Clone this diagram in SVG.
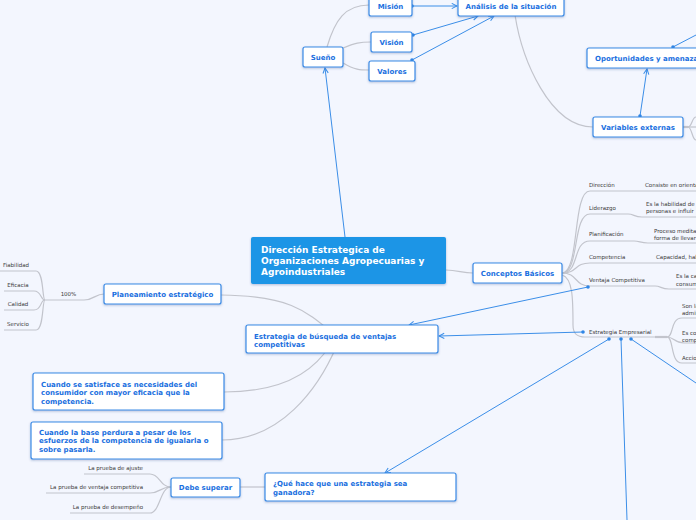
<svg xmlns="http://www.w3.org/2000/svg" width="696" height="520" viewBox="0 0 696 520">
<defs>
<style>
.bg{fill:#f3f6fe}
.node rect{fill:#ffffff;stroke:#3a8ae6;stroke-width:1.2}
.nt{font-family:"DejaVu Sans",Verdana,sans-serif;font-size:7px;font-weight:bold;fill:#1a6fe0}
.ct{font-family:"DejaVu Sans",Verdana,sans-serif;font-size:9px;font-weight:bold;fill:#ffffff}
.lt{font-family:"DejaVu Sans",Verdana,sans-serif;font-size:5.5px;fill:#3a3a3a}
.g{fill:none;stroke:#c2c4cc;stroke-width:1.2}
.gt{fill:none;stroke:#c2c4cc;stroke-width:2.2}
.b{fill:none;stroke:#3b8ee8;stroke-width:1}
.ba{fill:none;stroke:#3b8ee8;stroke-width:1;marker-end:url(#arr)}
.dot{fill:#2f86e6}
</style>
<marker id="arr" viewBox="0 0 8 8" refX="7" refY="4" markerWidth="7" markerHeight="7" markerUnits="userSpaceOnUse" orient="auto">
<path d="M1,1 L7,4 L1,7" fill="none" stroke="#3b8ee8" stroke-width="1.2"/>
</marker>
<filter id="sh" x="-10%" y="-20%" width="120%" height="160%">
<feDropShadow dx="0" dy="1" stdDeviation="0.8" flood-color="#1a3a80" flood-opacity="0.3"/>
</filter>
</defs>
<rect class="bg" x="0" y="0" width="696" height="520"/>

<g id="connectors">
<!-- gray tree lines -->
<path class="g" d="M327,47 C335,20 345,5 369,5"/>
<path class="g" d="M343,48 C355,43 360,42 371,42"/>
<path class="g" d="M343,63 C355,70 360,70 369,70"/>
<path class="g" d="M515,15 C522,60 550,127 593,127"/>
<path class="gt" d="M683,127 L688,127"/>
<path class="g" d="M688,127 C692,127 692,117 696,117"/>
<path class="g" d="M688,127 L696,127"/>
<path class="g" d="M688,127 C692,127 692,140 696,140"/>
<path class="g" d="M446,270 C458,270 462,273 473,273"/>
<!-- Conceptos children -->
<path class="g" d="M562,273 C580,273 572,191 590,191 L696,191"/>
<path class="g" d="M562,273 C580,273 572,214 590,214 L628,214 C634,214 634,217 642,217 L696,217"/>
<path class="g" d="M562,273 C580,273 572,241 590,241 L634,241 C640,241 640,243 648,243 L696,243"/>
<path class="g" d="M562,273 C578,273 574,263 590,263 L696,263"/>
<path class="g" d="M562,273 C578,273 574,286 590,286 L655,286 C661,286 661,289 669,289 L696,289"/>
<path class="g" d="M562,275 C573,278 573,300 573,325 C573,334 577,337 585,337 L655,337"/>
<path class="gt" d="M655,337 L667,337"/>
<path class="g" d="M667,337 C674,337 670,318 682,318 L696,318"/>
<path class="g" d="M667,337 C674,337 674,343 684,343 L696,343"/>
<path class="g" d="M667,337 C674,337 670,363 682,363 L696,363"/>
<!-- left side -->
<path class="g" d="M221,295 C290,296 305,310 335,335"/>
<path class="g" d="M224,392 C285,392 315,370 330,345"/>
<path class="g" d="M222,440 C280,440 318,390 337,345"/>
<path class="g" d="M104,294 C95,294 94,300 84,300 L45,300"/>
<path class="g" d="M45,300 C42,300 44,271 36,271 L0,271"/>
<path class="g" d="M45,300 C40,300 42,291 34,291 L4,291"/>
<path class="g" d="M45,300 C40,300 42,310 34,310 L4,310"/>
<path class="g" d="M45,300 C42,300 44,330 36,330 L4,330"/>
<path class="g" d="M265,487 L240,487"/>
<path class="g" d="M171,487 C160,487 160,474 150,474 L84,474"/>
<path class="g" d="M171,487 C160,487 160,493 150,493 L46,493"/>
<path class="g" d="M171,487 C160,487 160,513 150,513 L70,513"/>
<!-- blue relations -->
<path class="ba" d="M412,6 L457,6"/>
<circle class="dot" cx="412" cy="6" r="1.8"/>
<path class="ba" d="M413,35 L478,16"/>
<circle class="dot" cx="413" cy="35" r="1.8"/>
<path class="ba" d="M412,60 L494,16"/>
<circle class="dot" cx="412" cy="60" r="1.8"/>
<path class="ba" d="M345,237 L325,68"/>
<path class="ba" d="M640,116 L647,69"/>
<circle class="dot" cx="640" cy="116" r="1.8"/>
<path class="b" d="M673,47 L696,35"/>
<circle class="dot" cx="673" cy="47" r="1.8"/>
<path class="ba" d="M588,287 L409,325"/>
<circle class="dot" cx="588" cy="287" r="1.8"/>
<path class="ba" d="M583,332 L439,336"/>
<circle class="dot" cx="583" cy="332" r="1.8"/>
<path class="ba" d="M609,339 L385,473"/>
<circle class="dot" cx="609" cy="339" r="1.8"/>
<path class="b" d="M621,339 L627,520"/>
<circle class="dot" cx="621" cy="339" r="1.8"/>
<path class="b" d="M631,339 L696,383"/>
<circle class="dot" cx="631" cy="339" r="1.8"/>
</g>

<g id="central">
<rect x="251" y="237" width="195" height="47" rx="2" fill="#1b95e6" filter="url(#sh)"/>
<text class="ct" x="261" y="253">Dirección Estrategica de</text>
<text class="ct" x="261" y="264">Organizaciones Agropecuarias y</text>
<text class="ct" x="261" y="275">Agroindustriales</text>
</g>

<g id="mision" class="node"><rect x="369" y="-4" width="43" height="20" rx="2" filter="url(#sh)"/><text class="nt" x="390.5" y="8.5" text-anchor="middle">Misión</text></g>
<g id="analisis" class="node"><rect x="458" y="-4" width="106" height="20" rx="2" filter="url(#sh)"/><text class="nt" x="511" y="8.5" text-anchor="middle">Análisis de la situación</text></g>
<g id="vision" class="node"><rect x="371" y="32" width="41" height="20" rx="2" filter="url(#sh)"/><text class="nt" x="391.5" y="44.5" text-anchor="middle">Visión</text></g>
<g id="sueno" class="node"><rect x="303" y="47" width="40" height="20" rx="2" filter="url(#sh)"/><text class="nt" x="323" y="59.5" text-anchor="middle">Sueño</text></g>
<g id="valores" class="node"><rect x="369" y="61" width="46" height="20" rx="2" filter="url(#sh)"/><text class="nt" x="392" y="73.5" text-anchor="middle">Valores</text></g>
<g id="oportunidades" class="node"><rect x="587" y="48" width="130" height="20" rx="2" filter="url(#sh)"/><text class="nt" x="595" y="60.5">Oportunidades y amenazas</text></g>
<g id="variables" class="node"><rect x="593" y="117" width="90" height="20" rx="2" filter="url(#sh)"/><text class="nt" x="638" y="129.5" text-anchor="middle">Variables externas</text></g>
<g id="conceptos" class="node"><rect x="473" y="263" width="89" height="20" rx="2" filter="url(#sh)"/><text class="nt" x="517.5" y="275.5" text-anchor="middle">Conceptos Básicos</text></g>
<g id="planeamiento" class="node"><rect x="104" y="284" width="117" height="20" rx="2" filter="url(#sh)"/><text class="nt" x="162.5" y="296.5" text-anchor="middle">Planeamiento estratégico</text></g>
<g id="estrategia-busqueda" class="node"><rect x="246" y="325" width="192" height="28" rx="2" filter="url(#sh)"/><text class="nt" x="254" y="338.5">Estrategia de búsqueda de ventajas</text><text class="nt" x="254" y="346.5">competitivas</text></g>
<g id="satisface" class="node"><rect x="33" y="373" width="191" height="37" rx="2" filter="url(#sh)"/><text class="nt" x="41" y="386.5">Cuando se satisface as necesidades del</text><text class="nt" x="41" y="395">consumidor con mayor eficacia que la</text><text class="nt" x="41" y="403.5">competencia.</text></g>
<g id="base" class="node"><rect x="31" y="422" width="191" height="37" rx="2" filter="url(#sh)"/><text class="nt" x="39" y="434.5">Cuando la base perdura a pesar de los</text><text class="nt" x="39" y="443">esfuerzos  de la competencia de igualarla o</text><text class="nt" x="39" y="451.5">sobre pasarla.</text></g>
<g id="debe" class="node"><rect x="171" y="478" width="69" height="19" rx="2" filter="url(#sh)"/><text class="nt" x="205.5" y="490" text-anchor="middle">Debe superar</text></g>
<g id="que-hace" class="node"><rect x="265" y="473" width="191" height="28" rx="2" filter="url(#sh)"/><text class="nt" x="273" y="486">¿Qué hace que una estrategia sea</text><text class="nt" x="273" y="494.5">ganadora?</text></g>

<g id="leaves-left">
<text class="lt" x="16" y="267" text-anchor="middle">Fiabilidad</text>
<text class="lt" x="18" y="287" text-anchor="middle">Eficacia</text>
<text class="lt" x="18" y="306" text-anchor="middle">Calidad</text>
<text class="lt" x="18" y="326" text-anchor="middle">Servicio</text>
<text class="lt" x="68.5" y="296" text-anchor="middle">100%</text>
<text class="lt" x="143" y="470" text-anchor="end">La prueba de ajuste</text>
<text class="lt" x="143" y="489" text-anchor="end">La prueba de ventaja competitiva</text>
<text class="lt" x="143" y="509" text-anchor="end">La prueba de desempeño</text>
</g>

<g id="leaves-right">
<text class="lt" x="589" y="187">Dirección</text>
<text class="lt" x="645" y="187">Consiste en orientar</text>
<text class="lt" x="589" y="210">Liderazgo</text>
<text class="lt" x="646" y="206">Es la habilidad de</text>
<text class="lt" x="646" y="213">personas e influir</text>
<text class="lt" x="589" y="236">Planificación</text>
<text class="lt" x="654" y="233">Proceso meditado</text>
<text class="lt" x="654" y="239.5">forma de llevar</text>
<text class="lt" x="589" y="259">Competencia</text>
<text class="lt" x="656" y="259">Capacidad, habilidad</text>
<text class="lt" x="589" y="282">Ventaja Competitiva</text>
<text class="lt" x="676" y="278">Es la capacidad</text>
<text class="lt" x="676" y="285.5">consumidor</text>
<text class="lt" x="589" y="334">Estrategia Empresarial</text>
<text class="lt" x="682" y="308">Son las</text>
<text class="lt" x="682" y="314.5">administraciones</text>
<text class="lt" x="682" y="335">Es como</text>
<text class="lt" x="682" y="341.5">compite</text>
<text class="lt" x="682" y="360">Acciones</text>
</g>
</svg>
